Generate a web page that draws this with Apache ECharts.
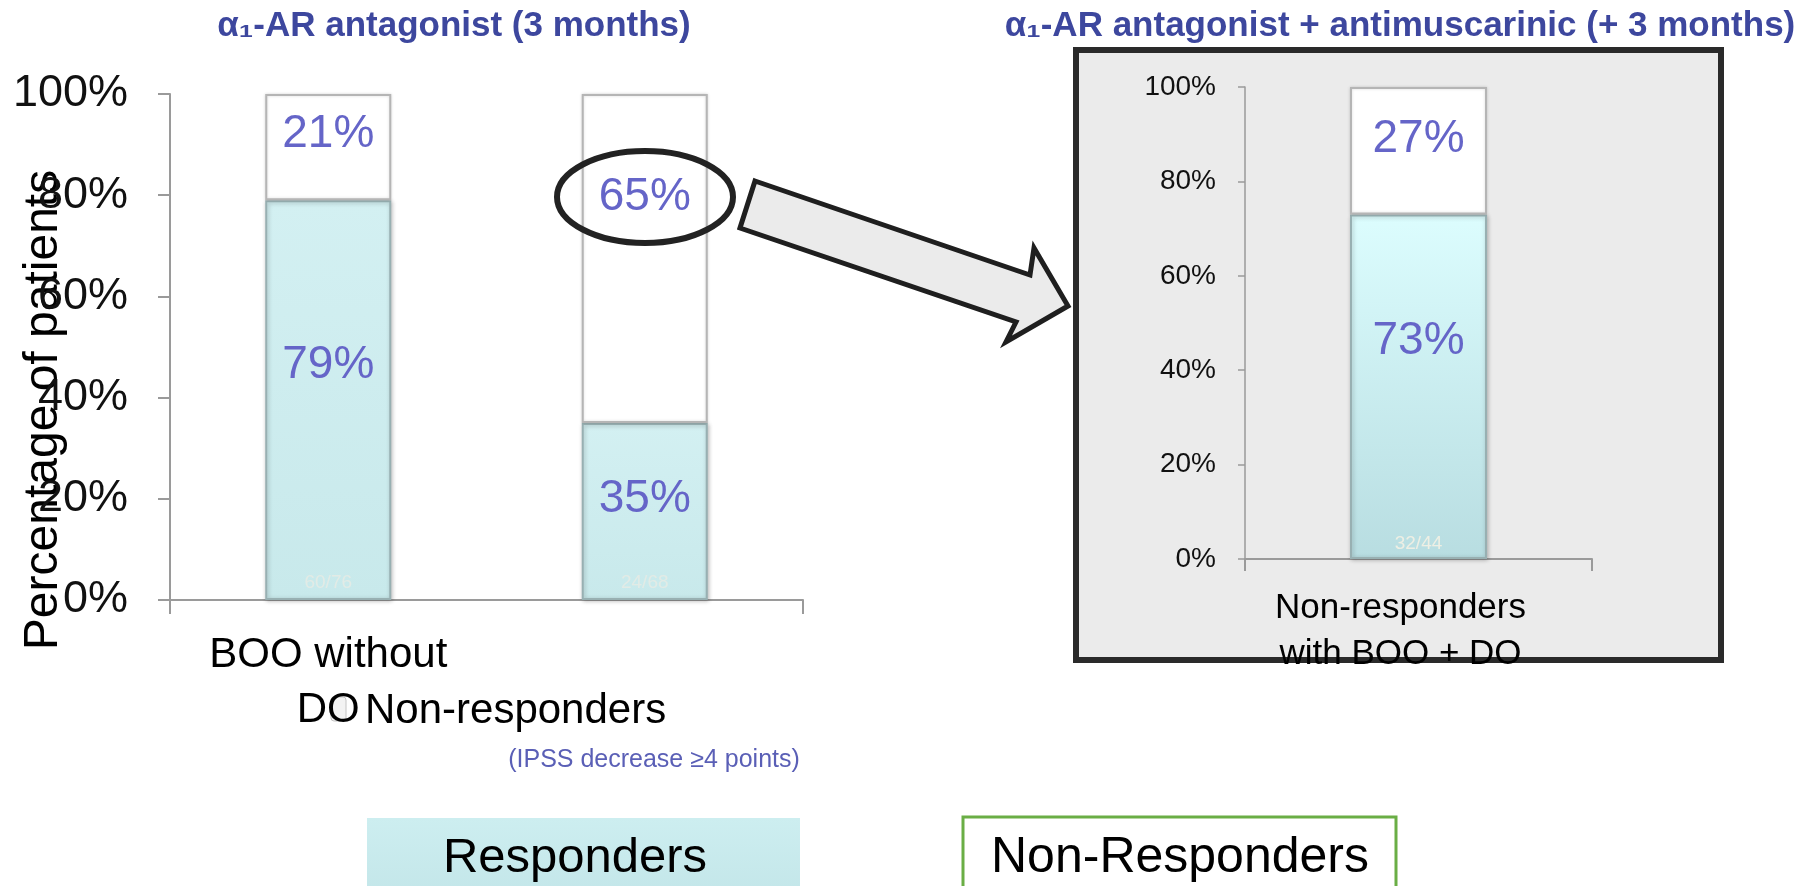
<!DOCTYPE html>
<html>
<head>
<meta charset="utf-8">
<script src="https://cdn.jsdelivr.net/npm/echarts@6/dist/echarts.min.js"></script>
<style>
html,body{margin:0;padding:0;background:#fff;}
#chart{width:1799px;height:886px;}
</style>
</head>
<body>
<div id="chart"></div>
<script>
// left panel: alpha1 blocker, 3 months
var leftCats = ['BOO without\nDO', 'BOO with DO'];
var leftResp = [79, 35];
var leftNonResp = [21, 65];
var leftCounts = ['60/76', '24/68'];
// right panel: + antimuscarinic
var rightCats = ['Non-responders\nwith BOO + DO'];
var rightResp = [73];
var rightNonResp = [27];
var rightCounts = ['32/44'];
var yMax = 100, yStep = 20;

// label nudges (px) so the % text sits like the slide
var leftRespShift = [-35, -12];
var leftNonShift = [-13, -61];
var rightRespShift = [-45];
var rightNonShift = [-11];

var FONT = 'Liberation Sans, Arial, sans-serif';
var pctColor = '#6565c8';
var axisGray = '#9a9a9a';

function withShift(vals, shift){
  var out = [];
  for (var i = 0; i < vals.length; i++) {
    out.push({value: vals[i], label: {offset: [0, shift[i]]}});
  }
  return out;
}

function respStyle(top, bottom){
  return {
    color: new echarts.graphic.LinearGradient(0, 0, 0, 1, [
      {offset: 0, color: top}, {offset: 1, color: bottom}
    ]),
    borderColor: '#98b0b2', borderWidth: 2,
    shadowColor: 'rgba(0,0,0,0.25)', shadowBlur: 4, shadowOffsetX: 1, shadowOffsetY: 1
  };
}
var nonStyle = {color: '#ffffff', borderColor: '#b5b5b5', borderWidth: 2,
  shadowColor: 'rgba(0,0,0,0.15)', shadowBlur: 3};

function pctLabel(size){
  return {show: true, position: 'inside', formatter: '{c}%', color: pctColor,
          fontSize: size, fontFamily: FONT};
}

var myChart = echarts.init(document.getElementById('chart'));
var option = {
  backgroundColor: '#ffffff',
  animation: false,
  grid: [
    {left: 170, top: 94, width: 633, height: 506},
    {left: 1245, top: 87, width: 347, height: 472}
  ],
  xAxis: [
    {
      type: 'category', gridIndex: 0, data: leftCats,
      axisLine: {show: true, lineStyle: {color: axisGray, width: 2}},
      axisTick: {show: true, length: 14, lineStyle: {color: axisGray, width: 2}},
      axisLabel: {color: '#000', fontSize: 42, fontFamily: FONT, margin: 28, lineHeight: 55}
    },
    {
      type: 'category', gridIndex: 1, data: rightCats,
      axisLine: {show: true, lineStyle: {color: axisGray, width: 2}},
      axisTick: {show: true, length: 12, lineStyle: {color: axisGray, width: 2}},
      axisLabel: {color: '#000', fontSize: 35, fontFamily: FONT, margin: 26, lineHeight: 46,
                  padding: [0, 36, 0, 0]}
    }
  ],
  yAxis: [
    {
      type: 'value', gridIndex: 0, min: 0, max: yMax, interval: yStep,
      splitLine: {show: false},
      axisLine: {show: true, lineStyle: {color: axisGray, width: 2}},
      axisTick: {show: true, length: 12, lineStyle: {color: axisGray, width: 2}},
      axisLabel: {formatter: '{value}%', color: '#111', fontSize: 45, fontFamily: FONT, margin: 42}
    },
    {
      type: 'value', gridIndex: 1, min: 0, max: yMax, interval: yStep,
      splitLine: {show: false},
      axisLine: {show: true, lineStyle: {color: axisGray, width: 1.5}},
      axisTick: {show: true, length: 7, lineStyle: {color: axisGray, width: 1.5}},
      axisLabel: {formatter: '{value}%', color: '#111', fontSize: 28, fontFamily: FONT, margin: 29}
    }
  ],
  series: [
    {
      name: 'Responders', type: 'bar', xAxisIndex: 0, yAxisIndex: 0, stack: 'l',
      barWidth: 126, barGap: '-100%',
      itemStyle: respStyle('#d3f0f2', '#c8e9eb'),
      label: pctLabel(46),
      data: withShift(leftResp, leftRespShift)
    },
    {
      name: 'Non-Responders', type: 'bar', xAxisIndex: 0, yAxisIndex: 0, stack: 'l',
      barWidth: 126, barGap: '-100%',
      itemStyle: nonStyle,
      label: pctLabel(46),
      data: withShift(leftNonResp, leftNonShift)
    },
    {
      name: 'n', type: 'bar', xAxisIndex: 0, yAxisIndex: 0,
      barWidth: 126, barGap: '-100%', silent: true,
      itemStyle: {color: 'rgba(0,0,0,0)'},
      label: {show: true, position: 'insideBottom', distance: 8, color: '#e2ebe6', fontSize: 19,
              fontFamily: FONT, formatter: function(p){ return leftCounts[p.dataIndex]; }},
      data: leftResp
    },
    {
      name: 'Responders', type: 'bar', xAxisIndex: 1, yAxisIndex: 1, stack: 'r',
      barWidth: 137, barGap: '-100%',
      itemStyle: respStyle('#dcfdfe', '#b8dde1'),
      label: pctLabel(46),
      data: withShift(rightResp, rightRespShift)
    },
    {
      name: 'Non-Responders', type: 'bar', xAxisIndex: 1, yAxisIndex: 1, stack: 'r',
      barWidth: 137, barGap: '-100%',
      itemStyle: nonStyle,
      label: pctLabel(46),
      data: withShift(rightNonResp, rightNonShift)
    },
    {
      name: 'n', type: 'bar', xAxisIndex: 1, yAxisIndex: 1,
      barWidth: 137, barGap: '-100%', silent: true,
      itemStyle: {color: 'rgba(0,0,0,0)'},
      label: {show: true, position: 'insideBottom', distance: 6, color: '#eeefe4', fontSize: 19,
              fontFamily: FONT, formatter: function(p){ return rightCounts[p.dataIndex]; }},
      data: rightResp
    }
  ],
  graphic: [
    // grey panel behind the right chart
    {type: 'rect', z: -1, shape: {x: 1076, y: 50, width: 645, height: 610},
     style: {fill: '#ebebeb', stroke: '#2a2a2a', lineWidth: 6}},
    // titles
    {type: 'text', x: 454, y: 26,
     style: {text: 'α\u2081-AR antagonist (3 months)', fill: '#3d479e', fontSize: 35, fontWeight: 'bold',
             fontFamily: FONT, align: 'center', verticalAlign: 'middle', textAlign: 'center', textVerticalAlign: 'middle'}},
    {type: 'text', x: 1400, y: 26,
     style: {text: 'α\u2081-AR antagonist + antimuscarinic (+ 3 months)', fill: '#3d479e', fontSize: 35, fontWeight: 'bold',
             fontFamily: FONT, align: 'center', verticalAlign: 'middle', textAlign: 'center', textVerticalAlign: 'middle'}},
    // y axis name
    {type: 'text', x: 44, y: 410, rotation: Math.PI / 2,
     style: {text: 'Percentage of patients', fill: '#000', fontSize: 48, fontFamily: FONT,
             align: 'center', verticalAlign: 'middle', textAlign: 'center', textVerticalAlign: 'middle'}},
    // leftover text box from the slide
    {type: 'text', x: 365, y: 711,
     style: {text: 'Non-responders', fill: '#000', fontSize: 42, fontFamily: FONT,
             align: 'left', verticalAlign: 'middle', textAlign: 'left', textVerticalAlign: 'middle'}},
    {type: 'rect', shape: {x: 331, y: 697, width: 15, height: 24, r: 3},
     style: {fill: '#f3f3f3', stroke: '#c4c4c4', lineWidth: 1}},
    {type: 'text', x: 654, y: 760,
     style: {text: '(IPSS decrease \u22654 points)', fill: '#5a5fb6', fontSize: 25, fontFamily: FONT,
             align: 'center', verticalAlign: 'middle', textAlign: 'center', textVerticalAlign: 'middle'}},
    // circle around 65% and the arrow
    {type: 'ellipse', z: 10, shape: {cx: 645, cy: 197, rx: 88, ry: 46},
     style: {fill: 'none', stroke: '#222', lineWidth: 6}},
    {type: 'polygon', z: 10,
     shape: {points: [[755, 181], [1030, 275], [1034, 248], [1068, 306], [1006, 342], [1016, 322], [740, 228]]},
     style: {fill: '#ebebeb', stroke: '#1f1f1f', lineWidth: 5}},
    // bottom legend boxes
    {type: 'rect', shape: {x: 367, y: 818, width: 433, height: 80},
     style: {fill: new echarts.graphic.LinearGradient(0, 0, 0, 1, [
       {offset: 0, color: '#cdeef0'}, {offset: 1, color: '#c3e6e9'}])}},
    {type: 'text', x: 575, y: 858,
     style: {text: 'Responders', fill: '#000', fontSize: 49, fontFamily: FONT,
             align: 'center', verticalAlign: 'middle', textAlign: 'center', textVerticalAlign: 'middle'}},
    {type: 'rect', shape: {x: 963, y: 817, width: 433, height: 80},
     style: {fill: '#ffffff', stroke: '#6aae45', lineWidth: 3}},
    {type: 'text', x: 1180, y: 858,
     style: {text: 'Non-Responders', fill: '#000', fontSize: 50, fontFamily: FONT,
             align: 'center', verticalAlign: 'middle', textAlign: 'center', textVerticalAlign: 'middle'}}
  ]
};
myChart.setOption(option);
</script>
</body>
</html>
